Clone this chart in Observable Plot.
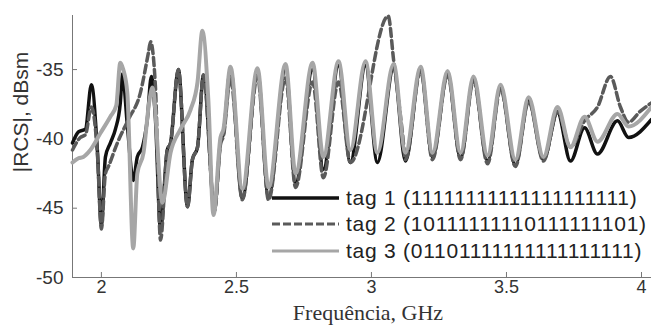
<!DOCTYPE html>
<html>
<head>
<meta charset="utf-8">
<script src="https://cdn.jsdelivr.net/npm/d3@7"></script>
<script src="https://cdn.jsdelivr.net/npm/@observablehq/plot@0.6"></script>
<style>
  html, body { margin: 0; padding: 0; background: #fff; }
  #wrap { position: relative; width: 651px; height: 325px; overflow: hidden; }
  .lab { position: absolute; color: #333; white-space: nowrap; }
</style>
</head>
<body>
<div id="wrap"></div>
<script>
// ---- data (GHz, dBsm) ----
const tag1Freq = [1.893,1.915,1.941,1.963,1.985,2.000,2.015,2.033,2.052,2.070,2.078,2.096,2.118,2.133,2.152,2.170,2.185,2.200,2.219,2.244,2.256,2.285,2.319,2.337,2.356,2.378,2.419,2.441,2.452,2.478,2.522,2.578,2.619,2.682,2.719,2.782,2.822,2.878,2.922,2.978,3.022,3.082,3.126,3.182,3.226,3.282,3.330,3.378,3.430,3.478,3.533,3.582,3.637,3.689,3.737,3.789,3.837,3.911,3.952,4.037];
const tag1Rcs  = [-40.3,-39.5,-39.3,-36.1,-40.8,-46.2,-41.3,-40.3,-39.3,-37.4,-35.3,-39.0,-43.0,-41.3,-40.6,-38.6,-35.5,-38.5,-46.5,-40.8,-40.3,-35.0,-44.9,-41.5,-40.6,-35.4,-45.0,-40.2,-39.6,-35.0,-44.3,-35.2,-44.2,-34.9,-43.2,-35.0,-42.2,-34.7,-41.7,-34.7,-41.7,-34.9,-41.6,-35.0,-41.3,-35.3,-41.4,-35.7,-41.6,-36.3,-41.9,-37.2,-41.5,-38.1,-41.6,-39.2,-41.1,-38.7,-39.9,-38.6];

const tag2Freq = [1.893,1.922,1.941,1.963,1.985,2.000,2.015,2.026,2.059,2.100,2.144,2.174,2.182,2.200,2.219,2.244,2.256,2.285,2.319,2.337,2.356,2.378,2.419,2.441,2.452,2.478,2.522,2.578,2.619,2.682,2.719,2.782,2.822,2.878,2.922,3.062,3.082,3.115,3.126,3.182,3.226,3.282,3.330,3.378,3.430,3.478,3.533,3.582,3.637,3.689,3.737,3.789,3.837,3.885,3.922,3.952,3.996,4.037];
const tag2Rcs  = [-40.8,-39.9,-39.7,-37.7,-41.0,-46.5,-42.5,-42.0,-40.3,-38.6,-36.7,-33.8,-33.0,-36.2,-47.3,-40.8,-40.3,-35.0,-44.9,-41.5,-40.6,-35.4,-45.2,-40.4,-39.8,-35.6,-44.4,-35.5,-44.4,-35.6,-43.5,-35.9,-42.8,-35.9,-41.7,-31.15,-34.3,-39.6,-41.5,-35.1,-41.5,-35.4,-41.5,-35.8,-41.8,-36.4,-42.0,-37.3,-41.6,-38.0,-40.6,-38.7,-37.7,-35.5,-37.7,-38.8,-38.0,-37.4];

const tag3Freq = [1.893,1.915,1.933,1.959,1.996,2.033,2.055,2.070,2.081,2.096,2.118,2.133,2.156,2.178,2.189,2.226,2.256,2.293,2.330,2.356,2.374,2.396,2.415,2.441,2.452,2.478,2.522,2.578,2.619,2.682,2.719,2.782,2.822,2.878,2.922,2.978,3.022,3.082,3.126,3.182,3.226,3.282,3.330,3.378,3.430,3.478,3.533,3.582,3.637,3.689,3.737,3.789,3.837,3.911,3.952,4.037];
const tag3Rcs  = [-41.7,-41.4,-41.3,-40.8,-39.6,-38.4,-37.6,-34.5,-35.0,-36.7,-47.9,-42.5,-41.0,-37.2,-36.3,-44.6,-41.0,-39.3,-37.9,-35.9,-32.2,-37.2,-45.5,-39.9,-39.3,-34.8,-43.6,-34.9,-43.5,-34.6,-42.5,-34.5,-41.3,-34.4,-40.8,-34.4,-41.0,-34.6,-41.0,-34.8,-41.0,-35.1,-41.0,-35.5,-41.2,-36.1,-41.5,-37.0,-41.3,-37.7,-40.6,-38.4,-40.2,-38.2,-39.1,-37.7];

const seriesNames = ["tag 1 (11111111111111111111)", "tag 2 (10111111110111111101)", "tag 3 (01101111111111111111)"];
const xTicks = [2, 2.5, 3, 3.5, 4];
const xTickLabels = ["2", "2.5", "3", "3.5", "4"];
const yTicks = [-50, -45, -40, -35];
const yTickLabels = ["-50", "-45", "-40", "-35"];
const xLabel = "Frequência, GHz";
const yLabel = "|RCS|, dBsm";

// ---- build tables ----
const toRows = (fs, vs, name) => fs.map((f, i) => ({f, v: vs[i], name}));
const d1 = toRows(tag1Freq, tag1Rcs, seriesNames[0]);
const d2 = toRows(tag2Freq, tag2Rcs, seriesNames[1]);
const d3 = toRows(tag3Freq, tag3Rcs, seriesNames[2]);

const W = 651, H = 325, mL = 72, mR = 0, mT = 15, mB = 48;
const frameH = H - mT - mB, frameW = W - mL - mR;
const axisColor = "#777";
const textColor = "#333";
const curve = "monotone-x";

const chart = Plot.plot({
  width: W, height: H,
  marginLeft: mL, marginRight: mR, marginTop: mT, marginBottom: mB,
  style: {fontFamily: "'Liberation Sans', Arial, sans-serif", color: textColor, background: "#fff"},
  x: {domain: [1.893, 4.037]},
  y: {domain: [-50, -31.1]},
  marks: [
    // axis lines
    Plot.ruleY([-50], {stroke: axisColor, strokeWidth: 1}),
    Plot.ruleX([1.893], {stroke: axisColor, strokeWidth: 1}),
    // inward ticks
    Plot.ruleX(xTicks, {x: d => d, insetTop: frameH - 5, stroke: axisColor}),
    Plot.ruleY(yTicks, {y: d => d, insetRight: frameW - 5, stroke: axisColor}),
    // data
    Plot.line(d1, {x: "f", y: "v", stroke: "#111", strokeWidth: 3.5, curve, strokeLinejoin: "round"}),
    Plot.line(d2, {x: "f", y: "v", stroke: "#5a5a5a", strokeWidth: 3.5, strokeDasharray: "8,4", curve, strokeLinejoin: "round"}),
    Plot.line(d3, {x: "f", y: "v", stroke: "#a6a6a6", strokeWidth: 4, curve, strokeLinejoin: "round"}),
    // tick labels
    Plot.axisX(xTicks, {tickSize: 0, tickPadding: 3, fontSize: 18, tickFormat: (d) => xTickLabels[xTicks.indexOf(d)], label: null, fill: textColor}),
    Plot.axisY(yTicks, {tickSize: 0, tickPadding: 9, fontSize: 19, tickFormat: (d) => yTickLabels[yTicks.indexOf(d)], label: null, fill: textColor})
  ]
});

const wrap = document.getElementById("wrap");
wrap.appendChild(chart);

// axis titles
const xl = document.createElement("div");
xl.className = "lab";
xl.textContent = xLabel;
xl.style.cssText += "font-family:'Liberation Serif','Times New Roman',serif;font-size:22px;left:368px;top:313px;transform:translate(-50%,-50%);";
wrap.appendChild(xl);

const yl = document.createElement("div");
yl.className = "lab";
yl.textContent = yLabel;
yl.style.cssText += "font-family:'Liberation Sans',Arial,sans-serif;font-size:21px;left:21px;top:112px;transform:translate(-50%,-50%) rotate(-90deg);";
wrap.appendChild(yl);

// legend (inside plot area, lower right)
const legStyles = [
  {stroke: "#111", width: 3.5, dash: null},
  {stroke: "#5a5a5a", width: 3, dash: "8,3"},
  {stroke: "#a6a6a6", width: 3, dash: null}
];
const legY = [198, 224, 251];
seriesNames.forEach((name, i) => {
  const row = document.createElement("div");
  row.style.cssText = `position:absolute;left:272px;top:${legY[i] - 13}px;height:26px;display:flex;align-items:center;`;
  const s = legStyles[i];
  row.innerHTML = `<svg width="67" height="26" style="display:block"><line x1="0" x2="67" y1="13" y2="13" stroke="${s.stroke}" stroke-width="${s.width}" ${s.dash ? `stroke-dasharray="${s.dash}"` : ""}/></svg>` +
    `<span style="margin-left:7px;font-family:'Liberation Sans',Arial,sans-serif;font-size:21px;letter-spacing:0.75px;color:#222;white-space:nowrap;line-height:26px;">${name}</span>`;
  wrap.appendChild(row);
});
</script>
</body>
</html>
